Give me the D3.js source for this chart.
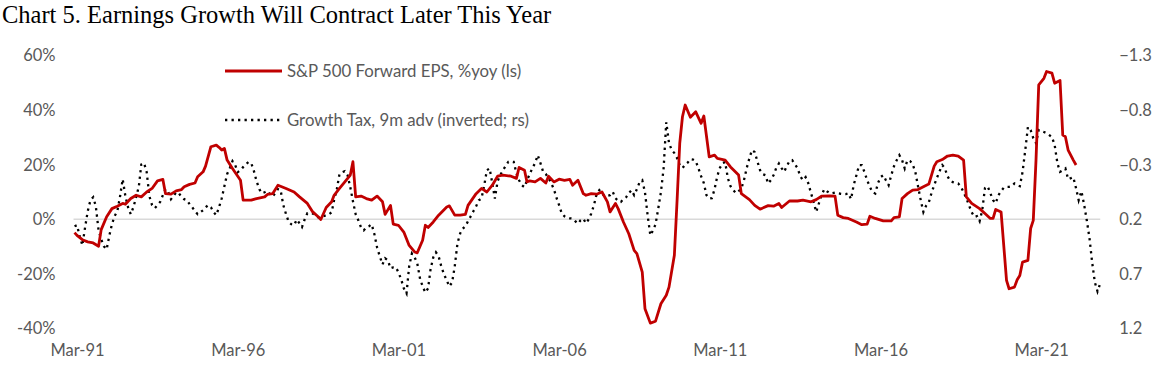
<!DOCTYPE html>
<html><head><meta charset="utf-8">
<script src="https://cdn.jsdelivr.net/npm/d3@7"></script>
<style>
body{margin:0;background:#fff;}
svg{display:block;}
</style></head>
<body><svg id="chart" width="1166" height="369"></svg>
<script>
const titleText = "Chart 5. Earnings Growth Will Contract Later This Year";
const seriesNames = ["S&P 500 Forward EPS, %yoy (ls)", "Growth Tax, 9m adv (inverted; rs)"];
const leftTicks = [-40, -20, 0, 20, 40, 60];
const rightTicks = [-1.3, -0.8, -0.3, 0.2, 0.7, 1.2];
const xTickLabels = ["Mar-91", "Mar-96", "Mar-01", "Mar-06", "Mar-11", "Mar-16", "Mar-21"];

// S&P 500 forward EPS, % yoy (left scale)
const epsDates = ["1991-02","1991-03","1991-05","1991-07","1991-09","1991-11","1991-12","1992-02","1992-04","1992-06","1992-08","1992-09","1992-11","1993-01","1993-03","1993-05","1993-07","1993-09","1993-11","1993-12","1994-02","1994-04","1994-06","1994-07","1994-09","1994-11","1994-12","1995-02","1995-03","1995-05","1995-07","1995-08","1995-09","1995-10","1995-11","1996-01","1996-04","1996-05","1996-08","1996-10","1997-01","1997-02","1997-04","1997-06","1997-09","1997-12","1998-02","1998-05","1998-07","1998-09","1998-10","1998-12","1999-02","1999-03","1999-05","1999-07","1999-09","1999-10","1999-11","2000-01","2000-03","2000-05","2000-07","2000-09","2000-10","2000-12","2001-01","2001-03","2001-05","2001-07","2001-09","2001-10","2001-12","2002-01","2002-02","2002-04","2002-06","2002-09","2002-10","2002-12","2003-02","2003-04","2003-05","2003-08","2003-10","2003-12","2004-02","2004-04","2004-06","2004-09","2004-11","2004-12","2005-02","2005-03","2005-04","2005-06","2005-08","2005-10","2005-11","2006-01","2006-03","2006-05","2006-07","2006-08","2006-10","2006-12","2007-01","2007-03","2007-05","2007-07","2007-09","2007-10","2007-12","2008-01","2008-03","2008-05","2008-07","2008-08","2008-10","2008-11","2009-01","2009-03","2009-05","2009-07","2009-08","2009-10","2009-11","2009-12","2010-01","2010-02","2010-04","2010-06","2010-08","2010-09","2010-11","2011-01","2011-02","2011-05","2011-07","2011-10","2011-11","2012-02","2012-04","2012-06","2012-09","2012-11","2013-01","2013-02","2013-05","2013-08","2013-10","2014-01","2014-03","2014-05","2014-08","2014-10","2014-11","2015-01","2015-03","2015-06","2015-08","2015-10","2015-11","2016-01","2016-04","2016-07","2016-08","2016-10","2016-11","2017-01","2017-03","2017-05","2017-07","2017-09","2017-11","2017-12","2018-02","2018-04","2018-06","2018-08","2018-10","2018-11","2019-01","2019-04","2019-06","2019-08","2019-09","2019-10","2019-12","2020-02","2020-03","2020-05","2020-06","2020-07","2020-08","2020-10","2020-11","2020-12","2021-01","2021-02","2021-04","2021-05","2021-07","2021-08","2021-10","2021-11","2021-12","2022-01","2022-03","2022-04"];
const epsValues = [-4.9,-5.9,-7.5,-8.3,-8.7,-9.9,-3.8,0.9,3.9,4.8,5.8,5.5,7.6,8.8,8.2,10.0,11.3,14.1,14.6,9.4,9.2,10.4,10.9,11.9,12.8,13.3,15.6,17.4,19.5,26.6,27.2,26.4,25.4,26.0,21.7,18.6,14.3,7.0,7.0,7.6,8.2,9.1,9.4,12.5,11.3,10.0,8.2,5.8,2.7,0.9,-0.1,4.3,6.4,8.8,11.3,13.7,16.2,21.1,8.2,8.5,7.6,7.0,8.5,6.4,1.8,5.1,-1.8,-2.2,-4.7,-9.6,-12.0,-12.3,-7.7,-2.2,-3.0,-1.0,1.5,4.5,4.9,1.5,1.5,1.8,5.1,9.4,11.3,10.0,12.5,15.8,16.2,15.8,15.0,19.0,18.0,13.7,14.1,13.7,15.0,13.3,15.8,13.7,14.7,14.3,14.6,12.5,14.3,9.4,8.8,9.4,9.2,10.0,6.4,2.7,5.8,3.9,-1.0,-5.3,-11.4,-12.6,-19.4,-32.8,-38.1,-37.4,-31.0,-27.9,-24.9,-13.2,7.0,27.8,37.6,41.9,37.4,39.4,35.2,37.9,22.9,23.5,22.3,21.7,19.2,16.2,9.4,7.2,5.1,3.7,5.0,4.8,5.8,4.3,6.7,6.7,7.0,6.4,7.2,8.5,8.6,8.5,1.5,0.6,0.3,-1.0,-2.0,-1.8,1.1,0.3,-0.6,-0.6,0.6,0.9,7.6,9.4,10.7,10.9,11.9,12.9,19.5,21.1,21.9,23.2,23.5,23.2,21.7,8.2,5.8,3.9,2.1,0.3,0.3,3.6,2.7,-22.4,-25.5,-24.9,-22.2,-20.6,-15.7,-15.1,-3.4,-0.4,21.7,49.3,51.7,54.2,53.6,49.9,50.9,30.9,30.3,25.4,21.7,19.9];

// Growth Tax, 9m advanced, monthly from Feb-91 (right scale, inverted)
const taxStart = "1991-02";
const taxValues = [
0.264,0.255,0.356,0.439,0.274,0.126,0.025,-0.002,0.081,0.301,0.384,0.448,0.476,0.356,0.246,0.172,0.126,-0.002,-0.168,-0.011,0.090,0.154,0.090,-0.002,-0.103,-0.303,-0.315,-0.232,-0.011,0.071,0.099,0.071,0.041,-0.021,-0.076,-0.048,0.016,-0.011,-0.048,-0.039,-0.005,0.016,0.025,0.062,0.090,0.126,0.154,0.136,0.117,0.090,0.071,0.090,0.136,0.163,0.090,0.007,-0.103,-0.214,-0.269,-0.333,-0.296,-0.232,-0.250,-0.278,-0.305,-0.324,-0.315,-0.241,-0.149,-0.076,-0.039,-0.048,-0.060,-0.030,-0.011,-0.039,-0.076,-0.067,0.071,0.154,0.225,0.246,0.255,0.203,0.237,0.271,0.200,0.145,0.145,0.148,0.163,0.182,0.182,0.172,0.163,0.154,0.136,0.025,-0.076,-0.214,-0.232,-0.241,-0.204,-0.094,0.035,0.154,0.209,0.274,0.301,0.274,0.264,0.246,0.338,0.457,0.540,0.614,0.558,0.577,0.650,0.641,0.641,0.687,0.751,0.834,0.880,0.632,0.515,0.549,0.604,0.742,0.816,0.871,0.834,0.660,0.549,0.503,0.540,0.632,0.705,0.761,0.816,0.779,0.632,0.421,0.329,0.287,0.264,0.218,0.172,0.126,0.081,0.025,
0.010,-0.110,-0.250,-0.266,-0.131,0.010,-0.149,-0.204,-0.250,-0.287,-0.327,-0.327,-0.327,-0.220,-0.158,-0.113,-0.094,-0.158,-0.214,-0.269,-0.315,-0.388,-0.315,-0.235,-0.214,-0.177,-0.131,-0.076,0.007,0.071,0.148,0.172,0.184,0.191,0.194,0.218,0.240,0.209,0.194,0.237,0.200,0.148,0.071,-0.030,-0.067,-0.039,-0.011,-0.016,-0.021,-0.051,0.007,0.030,0.041,0.016,-0.002,-0.039,-0.067,-0.021,-0.076,-0.140,-0.158,-0.048,0.163,0.347,0.301,0.246,0.102,-0.048,-0.269,-0.690,-0.500,-0.434,-0.407,-0.361,-0.296,-0.269,-0.301,-0.319,-0.351,-0.347,-0.333,-0.269,-0.195,-0.131,-0.021,0.010,0.007,-0.076,-0.195,-0.269,-0.315,-0.324,-0.177,-0.103,-0.067,-0.039,-0.057,-0.082,-0.158,-0.269,-0.361,-0.434,-0.416,-0.333,-0.250,-0.214,-0.204,-0.128,-0.158,-0.204,-0.269,-0.312,-0.269,-0.235,-0.287,-0.333,-0.342,-0.305,-0.269,-0.195,-0.158,-0.186,-0.131,-0.039,0.044,0.133,0.053,-0.021,-0.076,-0.057,-0.039,-0.039,-0.044,-0.039,-0.034,-0.030,-0.030,-0.039,0.016,-0.113,-0.204,-0.296,-0.296,-0.232,-0.158,-0.097,-0.048,-0.036,-0.131,-0.186,-0.204,-0.158,-0.113,-0.204,-0.287,-0.342,-0.388,-0.342,-0.266,-0.342,-0.333,-0.305,-0.232,-0.103,0.025,0.133,0.076,0.044,-0.039,-0.113,-0.177,-0.241,-0.296,-0.269,-0.195,-0.154,-0.140,-0.131,-0.128,-0.097,-0.048,0.007,0.071,0.136,0.179,0.172,0.218,0.117,-0.085,-0.103,-0.039,0.025,0.053,-0.021,-0.057,-0.090,-0.097,-0.097,-0.103,-0.128,-0.113,-0.103,-0.232,-0.434,-0.646,-0.618,-0.544,-0.498,-0.618,-0.609,-0.600,-0.590,-0.572,-0.554,-0.480,-0.315,-0.235,-0.250,-0.266,-0.168,-0.177,-0.186,-0.085,0.025,-0.057,0.062,0.209,0.375,0.595,0.779,0.862,0.788];

const parseYM = d3.timeParse("%Y-%m");
const parseTick = d3.timeParse("%b-%y");
const eps = epsDates.map((d, i) => ({date: parseYM(d), value: epsValues[i]}));
const t0 = parseYM(taxStart);
const tax = taxValues.map((v, i) => ({date: d3.timeMonth.offset(t0, i), value: v}));
const xTickDates = xTickLabels.map(parseTick);

const svg = d3.select("#chart");
const FONT = "Lato, 'Open Sans', sans-serif";
const GREY = "#595959";

const x = d3.scaleTime()
  .domain([new Date(1991, 2, 1), new Date(2021, 2, 1)])
  .range([77, 1041.2]);
const yL = d3.scaleLinear().domain([-40, 60]).range([328.3, 55.7]);
const yR = d3.scaleLinear().domain([1.2, -1.3]).range([328.3, 55.7]);

const xStart = x(tax[0].date), xEnd = x(tax[tax.length - 1].date);

// title
svg.append("text").attr("x", 2).attr("y", 23)
  .attr("font-family", "'Liberation Serif', 'Times New Roman', serif")
  .attr("font-size", 24.5).attr("fill", "#000").text(titleText);

// zero gridline
svg.append("line").attr("x1", xStart - 1).attr("x2", xEnd)
  .attr("y1", yL(0)).attr("y2", yL(0))
  .attr("stroke", "#d9d9d9").attr("stroke-width", 1.5);

function styleAxis(g) {
  g.select(".domain").remove();
  g.selectAll("text").attr("fill", GREY)
    .style("font-family", FONT).style("font-size", "16.5px");
}

svg.append("g").attr("transform", `translate(${xStart},0)`)
  .call(d3.axisLeft(yL).tickValues(leftTicks).tickFormat(d => d + "%").tickSize(0).tickPadding(19))
  .call(styleAxis);

svg.append("g").attr("transform", `translate(${xEnd},0)`)
  .call(d3.axisRight(yR).tickValues(rightTicks).tickFormat(d3.format(".1f")).tickSize(0).tickPadding(19))
  .call(styleAxis);

svg.append("g").attr("transform", `translate(0,333)`)
  .call(d3.axisBottom(x).tickValues(xTickDates).tickFormat(d3.timeFormat("%b-%y")).tickSize(0).tickPadding(11))
  .call(styleAxis);

// series
const lineL = d3.line().x(d => x(d.date)).y(d => yL(d.value));
const lineR = d3.line().x(d => x(d.date)).y(d => yR(d.value));

svg.append("path").datum(tax).attr("d", lineR)
  .attr("fill", "none").attr("stroke", "#000").attr("stroke-width", 2.3)
  .attr("stroke-dasharray", "2.3,4.2");

svg.append("path").datum(eps).attr("d", lineL)
  .attr("fill", "none").attr("stroke", "#c00000").attr("stroke-width", 2.8)
  .attr("stroke-linejoin", "round");

// legend
const legend = svg.append("g");
legend.append("line").attr("x1", 225).attr("x2", 282).attr("y1", 71).attr("y2", 71)
  .attr("stroke", "#c00000").attr("stroke-width", 3);
legend.append("line").attr("x1", 225).attr("x2", 280).attr("y1", 120).attr("y2", 120)
  .attr("stroke", "#000").attr("stroke-width", 2.3).attr("stroke-dasharray", "2.3,4.2");
legend.selectAll("text.lg").data(seriesNames).join("text").attr("class", "lg")
  .attr("x", 287).attr("y", (d, i) => 77 + i * 49)
  .attr("fill", GREY).style("font-family", FONT).style("font-size", "16.8px")
  .text(d => d);
</script>
</body></html>
